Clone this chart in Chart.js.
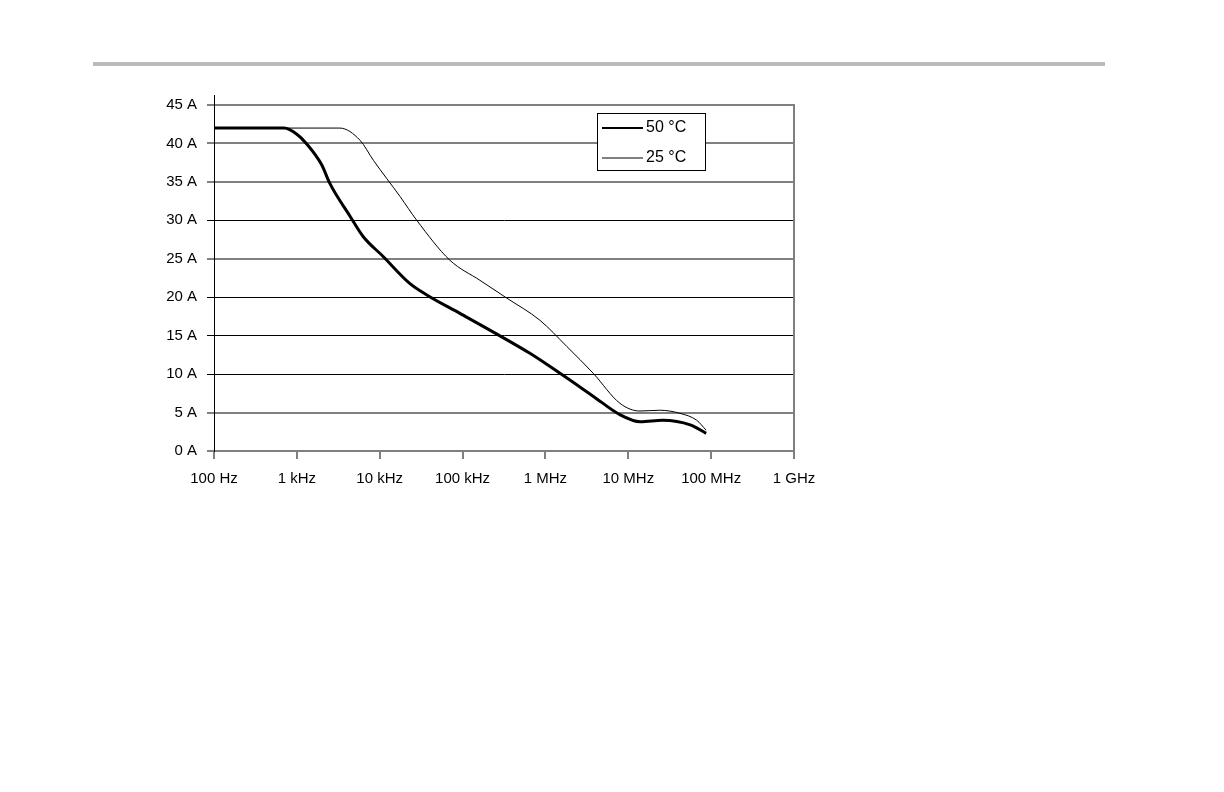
<!DOCTYPE html>
<html>
<head>
<meta charset="utf-8">
<script src="https://cdn.jsdelivr.net/npm/chart.js@4/dist/chart.umd.min.js"></script>
<style>
  body { margin: 0; background: #fff; }
  #rule { position: absolute; left: 93px; top: 62px; width: 1012px; height: 4px; background: #bbbbbb; }
  #wrap { position: absolute; left: 0; top: 0; width: 1224px; height: 792px; }
</style>
</head>
<body>
<div id="rule"></div>
<div id="wrap"><canvas id="myChart" width="1224" height="792"></canvas></div>
<script>
// frequency (Hz) and current (A)
const freq50 = [100, 700, 1000, 1300, 2000, 2500, 4400, 6300, 11000, 23000, 37000, 93000, 260000, 650000, 1.5e6, 3.8e6, 8e6, 1.4e7, 2.6e7, 5.6e7, 8.7e7];
const amp50 = [42, 42, 41.2, 40, 37.2, 34.8, 30.5, 27.9, 25.3, 21.8, 20.3, 17.9, 15.2, 12.7, 10.1, 7.1, 4.7, 3.8, 4.0, 3.4, 2.3];

const freq25 = [100, 3300, 5800, 8400, 17600, 28000, 70500, 162000, 340000, 859000, 1.81e6, 3.78e6, 7.94e6, 1.38e7, 2.4e7, 4.2e7, 6.7e7, 8.7e7];
const amp25 = [42, 42, 40.4, 37.8, 33.1, 30.0, 24.8, 22.2, 19.9, 17.0, 13.6, 10.1, 6.2, 5.2, 5.3, 4.9, 4.0, 2.7];

const seriesNames = ['50 °C', '25 °C'];
const decadeLabels = ['100 Hz', '1 kHz', '10 kHz', '100 kHz', '1 MHz', '10 MHz', '100 MHz', '1 GHz'];
const decades = [1e2, 1e3, 1e4, 1e5, 1e6, 1e7, 1e8, 1e9];
const grayLines = [0, 5, 25, 35, 40, 45];

const FONT = 'Liberation Sans, Arial, sans-serif';

const toPoints = (fs, as) => fs.map((f, i) => ({ x: f, y: as[i] }));

// legend box drawn inside the plot area, plus the little axis stub above 45 A
const boxLegend = {
  id: 'boxLegend',
  afterDraw(chart) {
    const ctx = chart.ctx;
    const area = chart.chartArea;
    ctx.save();
    ctx.strokeStyle = '#000';
    ctx.lineWidth = 1;
    ctx.beginPath();
    ctx.moveTo(area.left + 0.5, area.top - 10);
    ctx.lineTo(area.left + 0.5, area.top);
    ctx.stroke();

    const x0 = 597, y0 = 113, w = 108, h = 57;
    ctx.fillStyle = '#fff';
    ctx.fillRect(x0, y0, w, h);
    ctx.strokeRect(x0 + 0.5, y0 + 0.5, w, h);
    chart.data.datasets.forEach((ds, i) => {
      const y = y0 + 15 + i * 30;
      ctx.beginPath();
      ctx.strokeStyle = ds.borderColor;
      ctx.lineWidth = i === 0 ? 2 : 1;
      ctx.moveTo(x0 + 5, y);
      ctx.lineTo(x0 + 46, y);
      ctx.stroke();
      ctx.fillStyle = '#000';
      ctx.font = '16px ' + FONT;
      ctx.textBaseline = 'middle';
      ctx.fillText(ds.label, x0 + 49, y);
    });
    ctx.restore();
  }
};

var ctx = document.getElementById('myChart').getContext('2d');
var myChart = new Chart(ctx, {
  type: 'line',
  data: {
    datasets: [
      {
        label: seriesNames[0],
        data: toPoints(freq50, amp50),
        borderColor: '#000',
        borderWidth: 3,
        pointRadius: 0,
        cubicInterpolationMode: 'monotone',
      },
      {
        label: seriesNames[1],
        data: toPoints(freq25, amp25),
        borderColor: '#000',
        borderWidth: 1,
        pointRadius: 0,
        cubicInterpolationMode: 'monotone',
      },
    ],
  },
  options: {
    responsive: false,
    animation: false,
    layout: { padding: { left: 0, top: 105, right: 430, bottom: 0 } },
    plugins: { legend: { display: false }, tooltip: { enabled: false } },
    scales: {
      x: {
        type: 'logarithmic',
        min: 1e2,
        max: 1e9,
        afterBuildTicks: (scale) => {
          scale.ticks = decades.map((v) => ({ value: v }));
        },
        afterFit: (scale) => { scale.height = 792 - 451; },
        ticks: {
          autoSkip: false,
          maxRotation: 0,
          padding: 11,
          color: '#000',
          font: { family: FONT, size: 15 },
          callback: (v) => decadeLabels[decades.indexOf(v)],
        },
        grid: { drawOnChartArea: false, drawTicks: true, tickLength: 8, color: '#808080', lineWidth: 2 },
        border: { color: '#808080', width: 2 },
      },
      y: {
        min: 0,
        max: 45,
        afterFit: (scale) => { scale.width = 214; },
        ticks: {
          stepSize: 5,
          padding: 10,
          color: '#000',
          font: { family: FONT, size: 15 },
          callback: (v) => v + ' A',
        },
        grid: {
          tickLength: 7,
          color: (c) => grayLines.includes(c.tick.value) ? '#808080' : '#000',
          lineWidth: (c) => grayLines.includes(c.tick.value) ? 2 : 1,
        },
        border: { color: '#000', width: 1 },
      },
      y2: {
        position: 'right',
        min: 0,
        max: 45,
        afterFit: (scale) => { scale.width = 0; },
        ticks: { display: false },
        grid: { drawOnChartArea: false, drawTicks: false },
        border: { color: '#808080', width: 2 },
      },
    },
  },
  plugins: [boxLegend],
});
</script>
</body>
</html>
